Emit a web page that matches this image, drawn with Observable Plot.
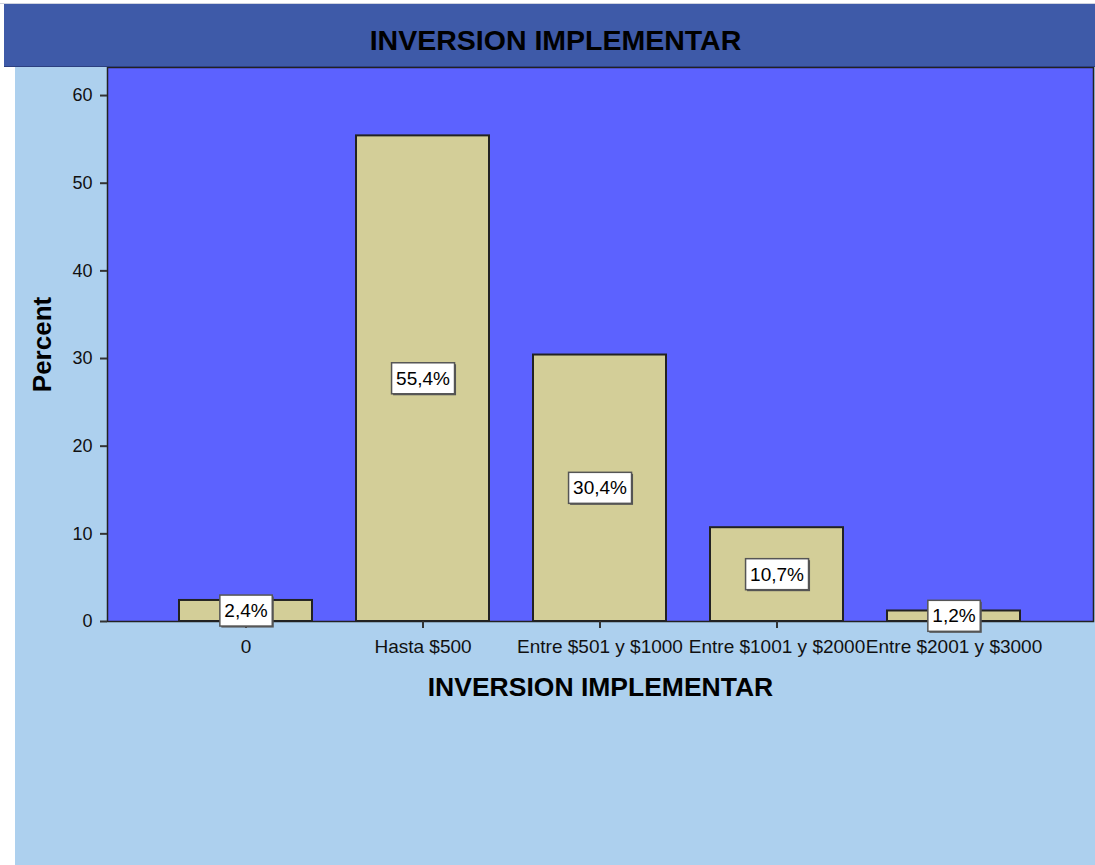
<!DOCTYPE html>
<html><head><meta charset="utf-8">
<script src="https://cdn.jsdelivr.net/npm/d3@7"></script>
<script src="https://cdn.jsdelivr.net/npm/@observablehq/plot@0.6"></script>
<style>
body{margin:0;background:#fff;font-family:"Liberation Sans",Arial,sans-serif;}
#wrap{position:relative;width:1095px;height:865px;overflow:hidden;background:#fff;}
#topline{position:absolute;left:0;top:3px;width:1095px;height:1px;background:#cfd3df;}
#title{position:absolute;left:4px;top:4px;width:1091px;height:63px;background:#3E5AA8;border-bottom:1px solid #2c3f80;box-sizing:border-box;display:flex;align-items:center;justify-content:center;font-weight:bold;font-size:28.5px;color:#000;padding-left:12px;padding-top:10px;}
#chart{position:absolute;left:15px;top:67px;width:1080px;height:798px;background:#ADD0EE;}
</style></head>
<body>
<div id="wrap">
  <div id="topline"></div>
  <div id="title">INVERSION IMPLEMENTAR</div>
  <div id="chart"></div>
</div>
<script>
const categories = ["0", "Hasta $500", "Entre $501 y $1000", "Entre $1001 y $2000", "Entre $2001 y $3000"];
const percents = [2.4, 55.4, 30.4, 10.7, 1.2];
const yTicks = [0, 10, 20, 30, 40, 50, 60];
const titleText = "INVERSION IMPLEMENTAR";
const xLabel = "INVERSION IMPLEMENTAR";
const yLabel = "Percent";

const data = categories.map((c, i) => ({cat: c, pct: percents[i]}));
const fmt = v => v.toFixed(1).replace(".", ",") + "%";
const FONT = "Liberation Sans, Arial, sans-serif";

const plot = Plot.plot({
  width: 1080,
  height: 798,
  marginLeft: 92,
  marginRight: 2,
  marginTop: 0,
  marginBottom: 244,
  style: {background: "#ADD0EE", fontFamily: FONT, fontSize: "18px", color: "#000"},
  x: {domain: categories, paddingInner: 0.247, paddingOuter: 0.399, label: null},
  y: {domain: [0, 63.2], label: null},
  marks: [
    Plot.frame({fill: "#5C62FF", stroke: "#222", strokeWidth: 1.5}),
    Plot.barY(data, {x: "cat", y: "pct", fill: "#D3CE98", stroke: "#222", strokeWidth: 2}),
    Plot.axisX({tickSize: 7, tickPadding: 11, fontSize: 19, stroke: "#333", strokeWidth: 2, label: null, fill: "#111"}),
    Plot.axisY({ticks: yTicks, tickSize: 7, tickPadding: 8, fontSize: 18, stroke: "#333", strokeWidth: 2, label: null, fill: "#111"}),
    Plot.text([xLabel], {text: d => d, frameAnchor: "bottom", dy: 74, fontSize: 26.5, fontWeight: "bold", fill: "#000"}),
    Plot.text([yLabel], {text: d => d, frameAnchor: "left", textAnchor: "middle", rotate: -90, dx: -65, fontSize: 26, fontWeight: "bold", fill: "#000"}),
    Plot.text(data, {x: "cat", y: d => d.pct / 2, text: d => fmt(d.pct), fontSize: 19, fill: "#000", ariaDescription: "vlabels"})
  ]
});

document.getElementById("chart").appendChild(plot);

// white boxes behind the value labels
let texts = plot.querySelectorAll('g[aria-description="vlabels"] text');
if (!texts.length) {
  const groups = [...plot.querySelectorAll('g[aria-label="text"]')].filter(g => g.querySelectorAll("text").length === data.length);
  if (groups.length) texts = groups[groups.length - 1].querySelectorAll("text");
}
const NS = "http://www.w3.org/2000/svg";
texts.forEach(t => {
  const b = t.getBBox();
  const padX = 4.5, padY = 5;
  const tr = t.getAttribute("transform");
  const shadow = document.createElementNS(NS, "rect");
  shadow.setAttribute("x", b.x - padX + 1.5);
  shadow.setAttribute("y", b.y - padY + 1.5);
  shadow.setAttribute("width", b.width + 2 * padX);
  shadow.setAttribute("height", b.height + 2 * padY);
  shadow.setAttribute("fill", "#555");
  if (tr) shadow.setAttribute("transform", tr);
  const r = document.createElementNS(NS, "rect");
  r.setAttribute("x", b.x - padX);
  r.setAttribute("y", b.y - padY);
  r.setAttribute("width", b.width + 2 * padX);
  r.setAttribute("height", b.height + 2 * padY);
  r.setAttribute("fill", "#fff");
  r.setAttribute("stroke", "#555");
  r.setAttribute("stroke-width", 1.5);
  if (tr) r.setAttribute("transform", tr);
  t.parentNode.insertBefore(shadow, t);
  t.parentNode.insertBefore(r, t);
});
</script>
</body></html>
